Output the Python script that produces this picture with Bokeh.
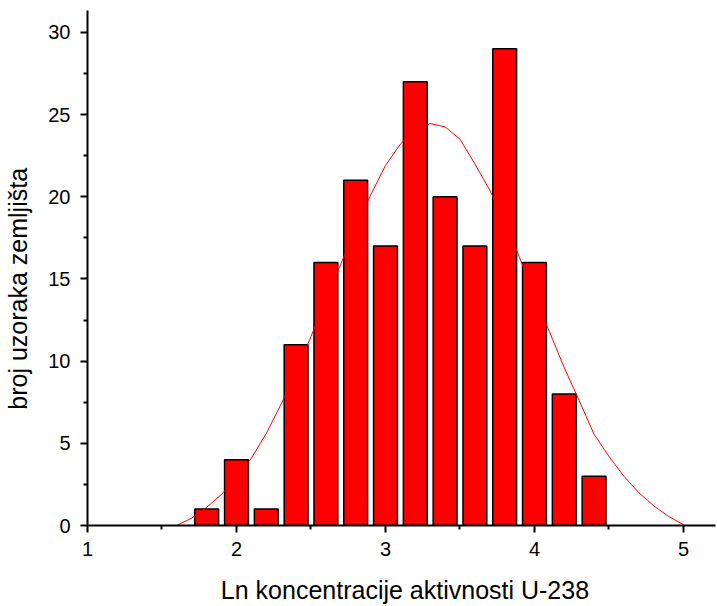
from bokeh.plotting import figure
from bokeh.models import Range1d, FixedTicker
from bokeh.embed import file_html
from bokeh.resources import INLINE

# Histogram data
bin_centers = [1.8, 2.0, 2.2, 2.4, 2.6, 2.8, 3.0, 3.2, 3.4, 3.6, 3.8, 4.0, 4.2, 4.4]
counts = [1, 4, 1, 11, 16, 21, 17, 27, 20, 17, 29, 16, 8, 3]
bar_width = 0.16

# Fitted curve
curve_x = [1.6, 1.7, 1.8, 1.9, 2.0, 2.1, 2.2, 2.3, 2.4, 2.5, 2.6, 2.7, 2.8, 2.9,
           3.0, 3.1, 3.2, 3.3, 3.4, 3.5, 3.6, 3.7, 3.8, 3.9, 4.0, 4.1, 4.2, 4.3,
           4.4, 4.5, 4.6, 4.7, 4.8, 4.9, 5.0]
curve_y = [0.0, 0.45, 1.1, 1.9, 2.9, 4.1, 5.6, 7.4, 9.3, 11.5, 13.7, 15.9, 18.1, 20.1,
           21.9, 23.2, 24.1, 24.45, 24.25, 23.5, 22.0, 20.4, 18.5, 16.3, 14.0, 11.8, 9.6, 7.6,
           5.55, 4.2, 3.0, 2.0, 1.2, 0.55, 0.05]

x_ticks = [1, 2, 3, 4, 5]
x_minor = [1.5, 2.5, 3.5, 4.5]
y_ticks = [0, 5, 10, 15, 20, 25, 30]
y_minor = [2.5, 7.5, 12.5, 17.5, 22.5, 27.5]

x_label = "Ln koncentracije aktivnosti U-238"
y_label = "broj uzoraka zemljišta"

FONT = "Liberation Sans"
NBSP = "\u00a0"

p = figure(width=717, height=606, output_backend="svg", toolbar_location=None,
           x_range=Range1d(1.0, 5.215), y_range=Range1d(0, 31.33),
           min_border_left=87, min_border_right=2, min_border_top=10, min_border_bottom=80)
p.outline_line_color = None
p.xgrid.visible = False
p.ygrid.visible = False
p.background_fill_color = "white"

p.vbar(x=bin_centers, top=counts, width=bar_width, bottom=0,
       fill_color="#ff0000", line_color="black", line_width=1.5)
p.line(curve_x, curve_y, line_color="#ff0000", line_width=1)

for ax, ticks, minor in ((p.xaxis[0], x_ticks, x_minor), (p.yaxis[0], y_ticks, y_minor)):
    ax.ticker = FixedTicker(ticks=ticks, minor_ticks=minor)
    ax.axis_line_width = 2
    ax.axis_line_color = "black"
    ax.major_tick_line_width = 2
    ax.minor_tick_line_width = 2
    ax.major_tick_out = 7
    ax.major_tick_in = 0
    ax.minor_tick_out = 4
    ax.minor_tick_in = 0
    ax.major_label_text_font = FONT
    ax.major_label_text_font_size = "20px"
    ax.major_label_text_color = "black"
    ax.axis_label_text_font = FONT
    ax.axis_label_text_font_size = "25px"
    ax.axis_label_text_font_style = "normal"
    ax.axis_label_text_color = "black"

p.xaxis[0].major_label_standoff = 9
p.yaxis[0].major_label_standoff = 10
# non-breaking spaces only nudge the centred label to the reference position
p.xaxis[0].axis_label = NBSP + x_label
p.xaxis[0].axis_label_standoff = 17
p.yaxis[0].axis_label = y_label + NBSP * 6
p.yaxis[0].axis_label_standoff = 13

open("out.html", "w").write(file_html(p, INLINE))
